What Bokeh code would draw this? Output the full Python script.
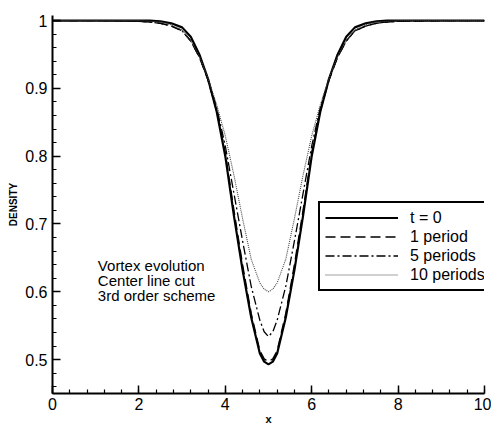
from bokeh.plotting import figure
from bokeh.models import (Legend, LegendItem, Label, Range1d, SingleIntervalTicker,
                          CustomJSTickFormatter)
from bokeh.embed import file_html
from bokeh.resources import INLINE

# ---- data ----
x = [0, 1, 2, 2.25, 2.5, 2.75, 3.0, 3.2, 3.4, 3.6, 3.8, 4.0, 4.2, 4.4, 4.6, 4.8, 4.9,
     5.0,
     5.1, 5.2, 5.4, 5.6, 5.8, 6.0, 6.2, 6.4, 6.6, 6.8, 7.0, 7.25, 7.5, 7.75, 8, 9, 10]

rho_t0 = [1.0, 1.0, 1.0, 1.0, 0.999, 0.996, 0.990, 0.976, 0.950, 0.914, 0.866, 0.800,
          0.712, 0.632, 0.562, 0.509, 0.497,
          0.493,
          0.497, 0.509, 0.562, 0.632, 0.712, 0.800, 0.866, 0.914, 0.950, 0.976, 0.990,
          0.996, 0.999, 1.0, 1.0, 1.0, 1.0]

rho_1p = [1.0, 1.0, 0.999, 0.998, 0.996, 0.992, 0.985, 0.970, 0.946, 0.912, 0.867, 0.805,
          0.720, 0.640, 0.568, 0.513, 0.501,
          0.497,
          0.501, 0.513, 0.568, 0.640, 0.720, 0.805, 0.867, 0.912, 0.946, 0.970, 0.985,
          0.992, 0.996, 0.998, 0.999, 1.0, 1.0]

rho_5p = [1.0, 1.0, 0.999, 0.998, 0.996, 0.992, 0.985, 0.970, 0.946, 0.914, 0.872, 0.815,
          0.745, 0.675, 0.608, 0.558, 0.541,
          0.534,
          0.541, 0.558, 0.608, 0.675, 0.745, 0.815, 0.872, 0.914, 0.946, 0.970, 0.985,
          0.992, 0.996, 0.998, 0.999, 1.0, 1.0]

rho_10p = [1.0, 1.0, 1.0, 0.999, 0.998, 0.994, 0.986, 0.970, 0.947, 0.915, 0.876, 0.830,
           0.772, 0.708, 0.648, 0.613, 0.604,
           0.600,
           0.604, 0.613, 0.648, 0.708, 0.772, 0.830, 0.876, 0.915, 0.947, 0.970, 0.986,
           0.994, 0.998, 0.999, 1.0, 1.0, 1.0]

series_labels = ["t = 0", "1 period", "5 periods", "10 periods"]
note_lines = ["Vortex evolution", "Center line cut", "3rd order  scheme"]
note_x = 1.05
note_y = [0.639, 0.617, 0.595]

FONT = "Liberation Sans"

p = figure(width=491, height=428, output_backend="svg", toolbar_location=None,
           x_range=Range1d(0, 10), y_range=Range1d(0.45, 1.0075),
           min_border_left=52, min_border_right=7, min_border_top=15, min_border_bottom=35)
p.outline_line_color = None
p.grid.visible = False
p.background_fill_color = "white"
p.border_fill_color = "white"

r0 = p.line(x, rho_t0, line_color="black", line_width=2.2)
r1 = p.line(x, rho_1p, line_color="black", line_width=1.4, line_dash="10 5")
r5 = p.line(x, rho_5p, line_color="black", line_width=1.3, line_dash="9 3 2 3")
r10 = p.line(x, rho_10p, line_color="#444444", line_width=1.1, line_dash="1 1")

for ax in (p.xaxis[0], p.yaxis[0]):
    ax.axis_line_width = 2
    ax.axis_line_color = "black"
    ax.major_tick_in = 8
    ax.major_tick_out = 0
    ax.minor_tick_in = 4
    ax.minor_tick_out = 0
    ax.major_tick_line_width = 1.5
    ax.minor_tick_line_width = 1.2
    ax.major_tick_line_color = "black"
    ax.minor_tick_line_color = "black"
    ax.major_label_text_font = FONT
    ax.major_label_text_font_size = "16px"
    ax.major_label_text_color = "black"
    ax.axis_label_text_font = FONT
    ax.axis_label_text_font_style = "bold"
    ax.axis_label_text_color = "black"

p.xaxis.ticker = SingleIntervalTicker(interval=2, num_minor_ticks=5)
p.yaxis.ticker = SingleIntervalTicker(interval=0.1, num_minor_ticks=5)
p.yaxis.formatter = CustomJSTickFormatter(code="return tick.toFixed(1).replace(/\\.0$/, '');")
p.xaxis.formatter = CustomJSTickFormatter(code="return tick.toFixed(0);")
p.xaxis.axis_label = "x"
p.xaxis.axis_label_text_font_size = "11px"
p.xaxis.major_label_standoff = 4
p.xaxis.axis_label_standoff = 0
p.yaxis.axis_label = "DENSITY"
p.yaxis.axis_label_text_font_size = "10px"
p.yaxis.major_label_standoff = 5
p.yaxis.axis_label_standoff = 3

for txt, yy in zip(note_lines, note_y):
    p.add_layout(Label(x=note_x, y=yy, text=txt, text_font=FONT, text_font_size="15px",
                       text_color="black", text_baseline="alphabetic"))

legend = Legend(items=[LegendItem(label=series_labels[0], renderers=[r0]),
                       LegendItem(label=series_labels[1], renderers=[r1]),
                       LegendItem(label=series_labels[2], renderers=[r5]),
                       LegendItem(label=series_labels[3], renderers=[r10])],
                location=(266, 102), margin=0, padding=5, spacing=0,
                label_height=19, glyph_height=19, glyph_width=73, label_standoff=12,
                label_text_font=FONT, label_text_font_size="16px",
                label_text_baseline="middle", label_text_color="black",
                border_line_color="black", border_line_width=2, border_line_alpha=1.0,
                background_fill_color="white", background_fill_alpha=1.0)
p.add_layout(legend)

open("out.html", "w").write(file_html(p, INLINE))
